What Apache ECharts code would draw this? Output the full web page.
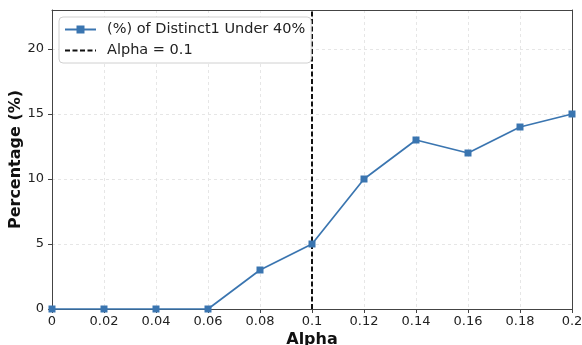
<!DOCTYPE html>
<html><head><meta charset="utf-8">
<script src="https://cdn.jsdelivr.net/npm/echarts@6/dist/echarts.min.js"></script>
<style>html,body{margin:0;padding:0;background:#fff}#c{width:582px;height:345px}</style>
</head><body><div id="c"></div>
<script>
const alphas = [0, 0.02, 0.04, 0.06, 0.08, 0.1, 0.12, 0.14, 0.16, 0.18, 0.2];
const percentages = [0, 0, 0, 0, 3, 5, 10, 13, 12, 14, 15];
const alphaLine = 0.1;
const yTicks = [0, 5, 10, 15, 20];
const seriesName = '(%) of Distinct1 Under 40%';
const lineName = 'Alpha = 0.1';

const chart = echarts.init(document.getElementById('c'), null, {renderer: 'canvas'});
const fmt = v => String(parseFloat(Number(v).toFixed(2)));
const frame = {show: true, onZero: false, lineStyle: {color: '#444', width: 1}};
chart.setOption({
  animation: false,
  backgroundColor: '#fff',
  textStyle: {fontFamily: 'DejaVu Sans'},
  grid: {left: 52, right: 10, top: 10, bottom: 36, containLabel: false, outerBoundsMode: 'none'},
  legend: {
    left: 59, top: 17, orient: 'vertical',
    backgroundColor: '#fff', borderColor: '#d0d0d0', borderWidth: 1, borderRadius: 4,
    padding: [5, 6, 5, 5], itemGap: 6, itemWidth: 31, itemHeight: 10,
    textStyle: {fontSize: 14.5, color: '#222', fontFamily: 'DejaVu Sans', padding: [0, 0, 0, 6]},
    data: [{name: seriesName}, {name: lineName, itemStyle: {opacity: 0}}]
  },
  xAxis: [{
    type: 'value', min: 0, max: 0.2, interval: 0.02,
    name: 'Alpha', nameLocation: 'middle', nameGap: 23, nameMoveOverlap: false,
    nameTextStyle: {fontSize: 16, fontWeight: 'bold', color: '#111'},
    axisLine: frame,
    axisTick: {show: true, length: 4, lineStyle: {color: '#444'}},
    axisLabel: {fontSize: 13, color: '#222', margin: 6, formatter: fmt, showMaxLabel: true, showMinLabel: true},
    splitLine: {show: true, lineStyle: {color: '#e6e6e6', type: [3, 3]}}
  }, {
    type: 'value', position: 'top', min: 0, max: 0.2,
    axisLine: frame, axisTick: {show: false}, axisLabel: {show: false}, splitLine: {show: false}
  }],
  yAxis: [{
    type: 'value', min: 0, max: 23, interval: 5,
    name: 'Percentage (%)', nameLocation: 'middle', nameGap: 28, nameMoveOverlap: false,
    nameTextStyle: {fontSize: 16, fontWeight: 'bold', color: '#111'},
    axisLine: frame,
    axisTick: {show: true, length: 4, lineStyle: {color: '#444'}},
    axisLabel: {fontSize: 13, color: '#222', margin: 8, showMaxLabel: false,
      formatter: v => yTicks.includes(v) ? String(v) : ''},
    splitLine: {show: true, lineStyle: {color: '#e6e6e6', type: [3, 3]}}
  }, {
    type: 'value', position: 'right', min: 0, max: 23,
    axisLine: frame, axisTick: {show: false}, axisLabel: {show: false}, splitLine: {show: false}
  }],
  series: [
    {
      name: seriesName, type: 'line',
      data: alphas.map((a, i) => [a, percentages[i]]),
      symbol: 'rect', symbolSize: 7,
      lineStyle: {color: '#3a75b0', width: 1.7},
      itemStyle: {color: '#3a75b0'},
      clip: false, z: 3
    },
    {
      name: lineName, type: 'line',
      data: [[alphaLine, 0], [alphaLine, 23]],
      symbol: 'none',
      lineStyle: {color: '#111', width: 2, type: [5, 2.5]},
      itemStyle: {color: '#111'},
      z: 2
    }
  ]
});
</script></body></html>
